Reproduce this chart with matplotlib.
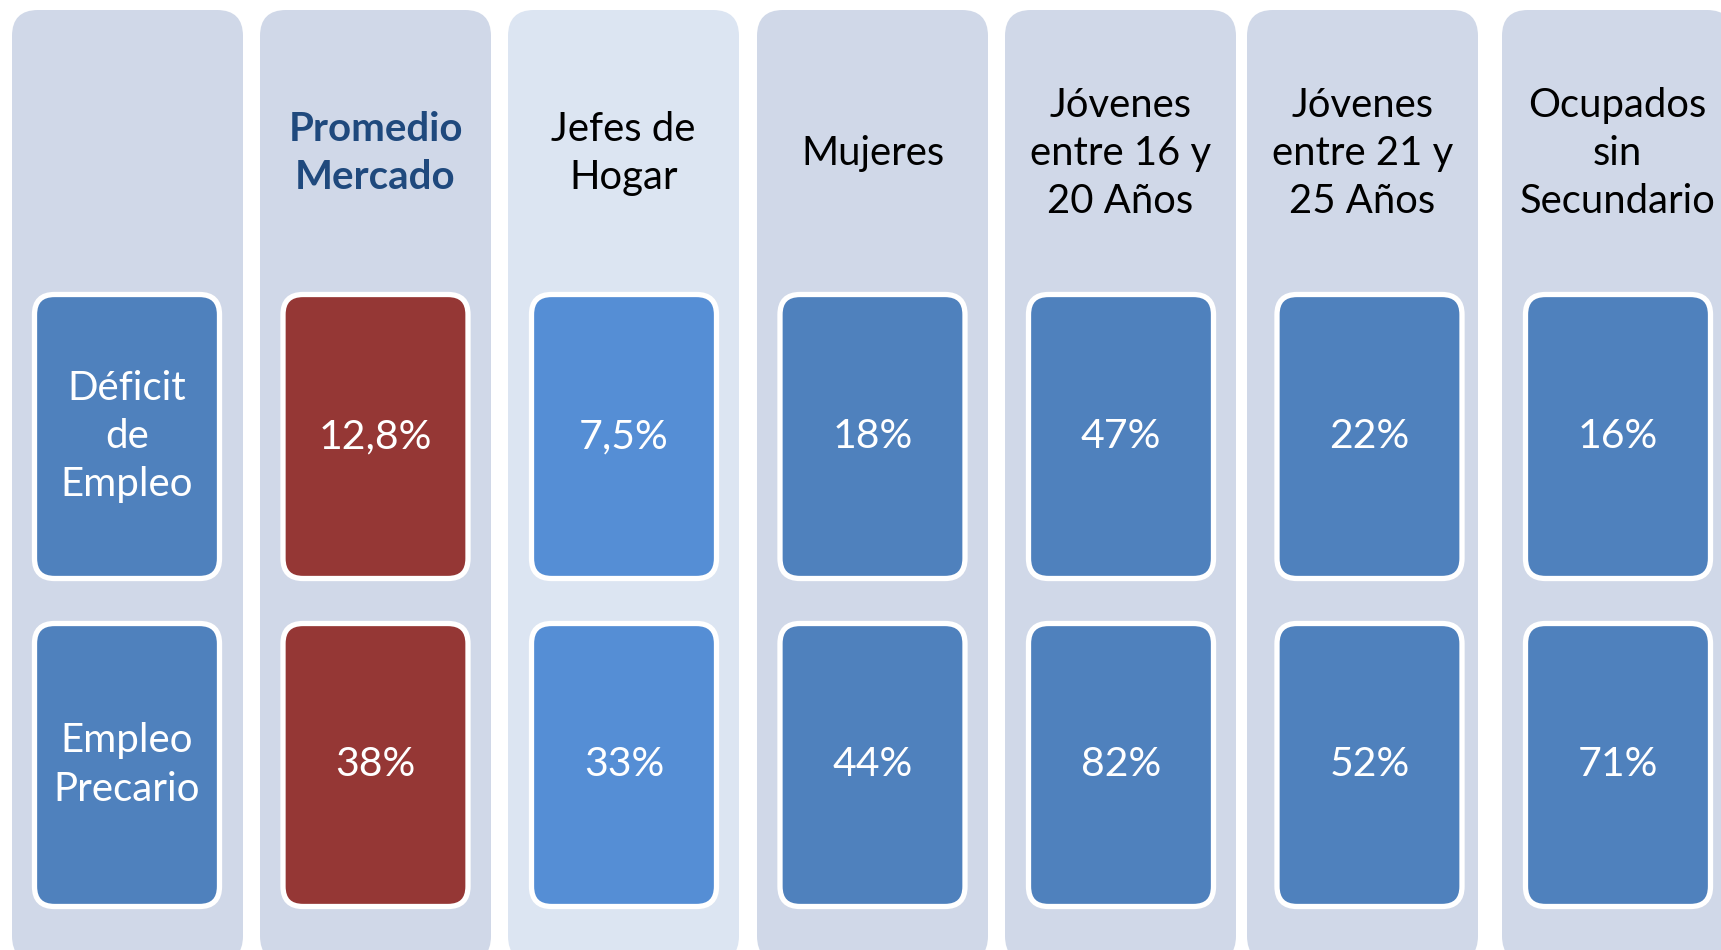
import matplotlib
matplotlib.use("Agg")
import matplotlib.pyplot as plt
from matplotlib.patches import FancyBboxPatch

# Données du diagramme
groupes = ["", "Promedio\nMercado", "Jefes de\nHogar", "Mujeres",
           "Jóvenes\nentre 16 y\n20 Años", "Jóvenes\nentre 21 y\n25 Años",
           "Ocupados\nsin\nSecundario"]
indicateurs = ["Déficit\nde\nEmpleo", "Empleo\nPrecario"]
deficit_empleo = [12.8, 7.5, 18, 47, 22, 16]
empleo_precario = [38, 33, 44, 82, 52, 71]

W, H = 1721, 950
COL_X = [12, 260, 508, 757, 1005, 1247, 1502]
COL_W = 231
COL_TOP, COL_BOT = 10, 962
BOX_X = [32, 280.5, 529, 777.5, 1026, 1274.5, 1523]
BOX_W = 190
BOX_ROWS = [(292, 581), (621, 909)]

BG = "#D0D8E8"
BG_LIGHT = "#DCE5F2"
BLUE = "#4F81BD"
BLUE_LIGHT = "#558ED5"
RED = "#953735"
FONT = ["Lato", "DejaVu Sans"]


def fmt(v):
    """Formate un pourcentage à la manière espagnole (virgule décimale)."""
    if float(v).is_integer():
        return f"{int(v)}%"
    return f"{v:.1f}%".replace(".", ",")


def rounded(ax, x0, y0, x1, y1, r, fc, ec="none", lw=0):
    p = FancyBboxPatch((x0 + r, y0 + r), (x1 - x0) - 2 * r, (y1 - y0) - 2 * r,
                       boxstyle=f"round,pad={r}", fc=fc, ec=ec, lw=lw,
                       mutation_aspect=1)
    ax.add_patch(p)


def plot_diagram():
    fig = plt.figure(figsize=(W / 100, H / 100), dpi=100)
    ax = fig.add_axes([0, 0, 1, 1])
    ax.set_xlim(0, W)
    ax.set_ylim(H, 0)
    ax.axis("off")

    colonnes = [None] + [list(t) for t in zip(deficit_empleo, empleo_precario)]

    for i, (x, bx, titre) in enumerate(zip(COL_X, BOX_X, groupes)):
        bg = BG_LIGHT if i == 2 else BG
        rounded(ax, x, COL_TOP, x + COL_W, COL_BOT, 26, bg)
        cx = x + COL_W / 2

        # En-tête de la colonne
        if i == 1:
            ax.text(cx, 153.5, titre, ha="center", va="center", fontsize=29,
                    fontweight="bold", color="#1F497D", family=FONT,
                    linespacing=1.36)
        elif titre:
            ax.text(cx, 153.5, titre, ha="center", va="center", fontsize=28.8,
                    color="black", family=FONT, linespacing=1.36)

        # Boîtes de valeurs
        if i == 1:
            fc = RED
        elif i == 2:
            fc = BLUE_LIGHT
        else:
            fc = BLUE
        bcx = bx + BOX_W / 2
        for j, (y0, y1) in enumerate(BOX_ROWS):
            rounded(ax, bx + 2.5, y0 + 2.5, bx + BOX_W - 2.5, y1 - 2.5, 20,
                    fc, ec="white", lw=3.8)
            cy = (y0 + y1) / 2
            if i == 0:
                ax.text(bcx, cy, indicateurs[j], ha="center", va="center",
                        fontsize=29, color="white", family=FONT,
                        linespacing=1.37)
            else:
                ax.text(bcx, cy, fmt(colonnes[i][j]), ha="center", va="center",
                        fontsize=29.5, color="white", family=FONT)

    fig.savefig("out.png", dpi=100, facecolor="white")


if __name__ == "__main__":
    plot_diagram()
